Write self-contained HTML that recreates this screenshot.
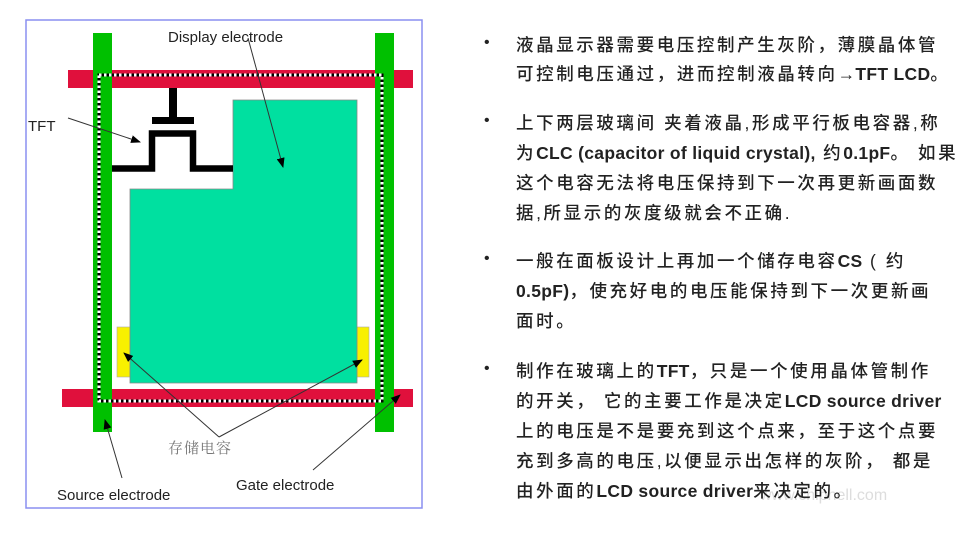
<!DOCTYPE html>
<html><head><meta charset="utf-8"><style>
body{margin:0;width:979px;height:533px;background:#fff;overflow:hidden;position:relative;font-family:"Liberation Sans","Noto Sans CJK SC",sans-serif}
.t{position:absolute;left:516px;font-family:"Liberation Sans","Noto Sans CJK SC",sans-serif;font-size:17.5px;letter-spacing:2.6px;color:#222;white-space:nowrap;line-height:30px;font-weight:500}
.t b{letter-spacing:0.3px}
.b{position:absolute;left:484px;font-size:16px;color:#222}
</style></head><body>
<svg width="979" height="533" style="position:absolute;left:0;top:0">
<defs><marker id="a" markerWidth="10" markerHeight="8" refX="9" refY="4" orient="auto" markerUnits="userSpaceOnUse"><path d="M0,0L10,4L0,8z" fill="#000"/></marker></defs>
<rect x="26" y="20" width="396" height="488" fill="none" stroke="#8a8ff0" stroke-width="1.5"/>
<rect x="68" y="70" width="345" height="18" fill="#e0103c"/>
<rect x="62" y="389" width="351" height="18" fill="#e0103c"/>
<rect x="93" y="33" width="19" height="399" fill="#00c000"/>
<rect x="375" y="33" width="19" height="399" fill="#00c000"/>
<rect x="99" y="75" width="283" height="326" fill="none" stroke="#000" stroke-width="3"/>
<rect x="99" y="75" width="283" height="326" fill="none" stroke="#fff" stroke-width="3" stroke-dasharray="2.5 2.5"/>
<rect x="117" y="327" width="13" height="50" fill="#f8f000" stroke="#aaa" stroke-width="0.6"/>
<rect x="357" y="327" width="12" height="50" fill="#f8f000" stroke="#aaa" stroke-width="0.6"/>
<path d="M233,100H357V383H130V189H233Z" fill="#00e0a0" stroke="#888" stroke-width="0.8"/>
<rect x="169" y="88" width="8" height="30" fill="#000"/>
<rect x="152" y="117" width="42" height="7" fill="#000"/>
<path d="M112,168.5H152V133.5H193V168.5H233" fill="none" stroke="#000" stroke-width="6.5"/>
<g stroke="#333" stroke-width="1" fill="none" marker-end="url(#a)">
<line x1="248" y1="38" x2="283" y2="167"/>
<line x1="68" y1="118" x2="140" y2="142"/>
<line x1="219" y1="437" x2="124" y2="353"/>
<line x1="219" y1="437" x2="362" y2="360"/>
<line x1="122" y1="478" x2="105" y2="420"/>
<line x1="313" y1="470" x2="400" y2="395"/>
</g>
<g font-family="Liberation Sans, sans-serif" font-size="15" fill="#222">
<text x="168" y="42">Display electrode</text>
<text x="28" y="131">TFT</text>
<text x="57" y="500">Source electrode</text>
<text x="236" y="490">Gate electrode</text>
</g>
<text x="168" y="453" font-family="Noto Serif CJK SC, serif" font-size="15" fill="#777" letter-spacing="1">存储电容</text>
<text x="760" y="500" font-family="Liberation Sans, sans-serif" font-size="16" fill="#ddd">www.chiphell.com</text>
</svg>
<div class="b" style="top:34px">•</div>
<div class="t" style="top:30px">液晶显示器需要电压控制产生灰阶，薄膜晶体管</div>
<div class="t" style="top:59px">可控制电压通过，进而控制液晶转向<b>→TFT LCD</b>。</div>
<div class="b" style="top:112px">•</div>
<div class="t" style="top:108px">上下两层玻璃间 夹着液晶,形成平行板电容器,称</div>
<div class="t" style="top:138px">为<b>CLC (capacitor of liquid crystal),</b> 约<b>0.1pF</b>。 如果</div>
<div class="t" style="top:168px">这个电容无法将电压保持到下一次再更新画面数</div>
<div class="t" style="top:198px">据,所显示的灰度级就会不正确.</div>
<div class="b" style="top:250px">•</div>
<div class="t" style="top:246px">一般在面板设计上再加一个储存电容<b>CS</b> ( 约</div>
<div class="t" style="top:276px"><b>0.5pF)</b>，使充好电的电压能保持到下一次更新画</div>
<div class="t" style="top:306px">面时。</div>
<div class="b" style="top:360px">•</div>
<div class="t" style="top:356px">制作在玻璃上的<b>TFT</b>，只是一个使用晶体管制作</div>
<div class="t" style="top:386px">的开关， 它的主要工作是决定<b>LCD source driver</b></div>
<div class="t" style="top:416px">上的电压是不是要充到这个点来，至于这个点要</div>
<div class="t" style="top:446px">充到多高的电压,以便显示出怎样的灰阶， 都是</div>
<div class="t" style="top:476px">由外面的<b>LCD source driver</b>来决定的。</div>
</body></html>
